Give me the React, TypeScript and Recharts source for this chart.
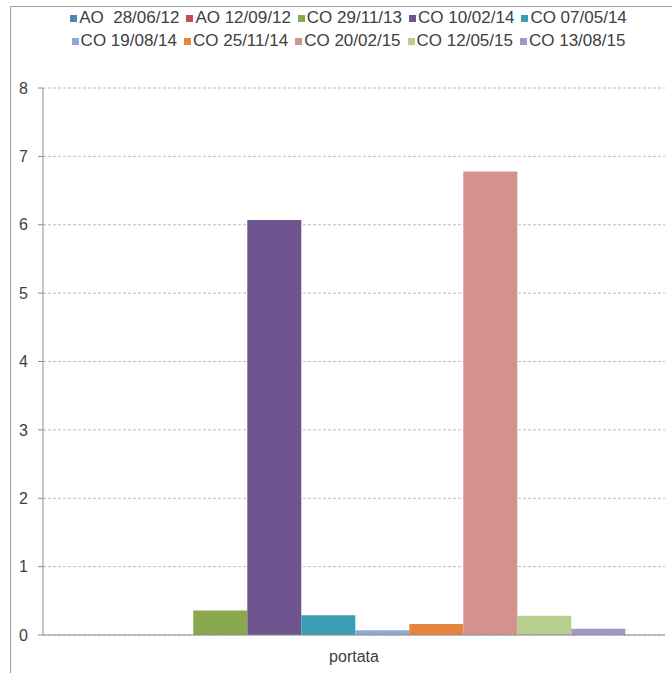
import { BarChart, Bar, XAxis, YAxis, CartesianGrid } from 'recharts'

const categories = ['portata']
const seriesNames = [
  'AO  28/06/12', 'AO 12/09/12', 'CO 29/11/13', 'CO 10/02/14', 'CO 07/05/14',
  'CO 19/08/14', 'CO 25/11/14', 'CO 20/02/15', 'CO 12/05/15', 'CO 13/08/15',
]
const seriesValues = [0, 0, 0.36, 6.07, 0.29, 0.07, 0.16, 6.78, 0.28, 0.09]
const seriesColors = [
  '#4F81BD', '#C0504D', '#8AA84E', '#6E5590', '#3E9DB6',
  '#8FA8D8', '#E5853D', '#D4928F', '#B7CE8F', '#A597C4',
]
const yTicks = [0, 1, 2, 3, 4, 5, 6, 7, 8]

const data = categories.map(c => {
  const row: Record<string, string | number> = { name: c }
  seriesNames.forEach((s, i) => { row[`s${i}`] = seriesValues[i] })
  return row
})

const font = '"Liberation Sans", Arial, sans-serif'

function LegendRow({ from, to, top }: { from: number; to: number; top: number }) {
  return (
    <div style={{
      position: 'absolute', left: 4, width: 674, top, display: 'flex',
      justifyContent: 'center', fontFamily: font, fontSize: 17, color: '#404040',
      lineHeight: '20px', whiteSpace: 'pre',
    }}>
      {seriesNames.slice(from, to).map((s, k) => (
        <span key={s} style={{ display: 'flex', alignItems: 'center', marginRight: 7 }}>
          <span style={{ width: 7, height: 7, background: seriesColors[from + k], marginRight: 2 }} />
          {s}
        </span>
      ))}
    </div>
  )
}

export default function App() {
  return (
    <div style={{ position: 'absolute', left: 0, top: 0, width: 672, height: 673, overflow: 'hidden', background: '#fff' }}>
      <div style={{ position: 'absolute', left: 10, top: 6, width: 700, height: 680, border: '1px solid #a0a0a0' }}>
        <LegendRow from={0} to={5} top={1} />
        <LegendRow from={5} to={10} top={24} />
        <div style={{ position: 'absolute', left: 0, top: 0 }}>
          <BarChart
            width={680} height={673} data={data}
            margin={{ top: 81, right: 26, left: 0, bottom: 15 }}
            barCategoryGap="6.8%" barGap={0}
          >
            <CartesianGrid vertical={false} stroke="#bdbdbd" strokeDasharray="3 2" />
            <XAxis
              dataKey="name" height={30} tickSize={0} tickMargin={16}
              stroke="#8c8c8c" tick={{ fontSize: 16, fill: '#404040', fontFamily: font }}
            />
            <YAxis
              width={32} domain={[0, 8]} ticks={yTicks} interval={0} tickSize={5} tickMargin={10}
              stroke="#8c8c8c" tick={{ fontSize: 16, fill: '#404040', fontFamily: font }}
            />
            {seriesNames.map((s, i) => (
              <Bar key={s} dataKey={`s${i}`} name={s} fill={seriesColors[i]} isAnimationActive={false} />
            ))}
          </BarChart>
        </div>
      </div>
    </div>
  )
}
